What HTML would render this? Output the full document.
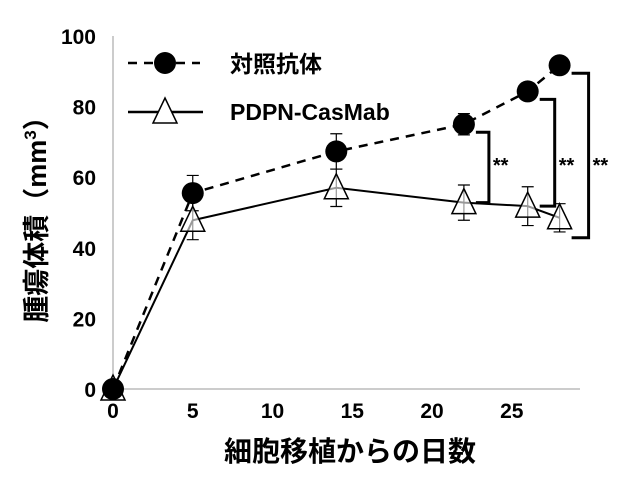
<!DOCTYPE html>
<html><head><meta charset="utf-8"><style>
body{margin:0;background:#fff}
svg text{font-family:"Liberation Sans","Noto Sans CJK JP",sans-serif;font-weight:bold}
</style></head><body>
<svg id="chart" width="638" height="482" viewBox="0 0 638 482" xmlns="http://www.w3.org/2000/svg">
<g id="axes"></g><g id="plot"></g>
<text transform="translate(46,213) rotate(-90)" text-anchor="middle" font-size="27">腫瘍体積（mm<tspan font-size="17" dy="-10">3</tspan><tspan dy="10">）</tspan></text>
<text x="350" y="461" text-anchor="middle" font-size="28">細胞移植からの日数</text>
<g>
 <line x1="128" y1="63" x2="200" y2="63" stroke="#000" stroke-width="2.5" stroke-dasharray="9,7"/>
 <circle cx="165" cy="63" r="11"/>
 <text x="230" y="72" font-size="23">対照抗体</text>
 <line x1="128" y1="112" x2="203" y2="112" stroke="#000" stroke-width="2.5"/>
 <path d="M165,98 L177,123 L153,123 Z" fill="#fff" stroke="#000" stroke-width="1.5"/>
 <text x="230" y="120" font-size="23">PDPN-CasMab</text>
</g>
</svg>
<script>
const days=[0,5,14,22,26,28];
const controlValues=[0,55.5,67.3,75,84.3,91.7];
const controlErrors=[0,5,5,3,2,1];
const pdpnValues=[0,47.8,57,52.8,51.8,48.5];
const pdpnErrors=[0,5.5,5.3,5,5.5,4];
const xTicks=[0,5,10,15,20,25];
const yTicks=[0,20,40,60,80,100];
const sigIdx=[3,4,5];
const sigLabels=["**","**","**"];
const NS="http://www.w3.org/2000/svg";
const X=d=>113+d*15.95, Y=v=>389-v*3.53;
function mk(p,t,a){const e=document.createElementNS(NS,t);for(const k in a)e.setAttribute(k,a[k]);p.appendChild(e);return e;}
const axes=document.getElementById('axes'),plot=document.getElementById('plot');
let e=mk(axes,'line',{x1:113,y1:Y(100),x2:113,y2:389,stroke:'#999','stroke-width':1});


e=mk(axes,'line',{x1:113,y1:389,x2:580,y2:389,stroke:'#999','stroke-width':1});


yTicks.forEach(v=>{const t=mk(axes,'text',{x:96,y:Y(v)+8,'text-anchor':'end','font-size':21});t.textContent=v;

});
xTicks.forEach(v=>{const t=mk(axes,'text',{x:X(v),y:418,'text-anchor':'middle','font-size':21});t.textContent=v;

});
function pts(vals){return days.map((d,i)=>X(d)+','+Y(vals[i])).join(' ');}
e=mk(plot,'polyline',{points:pts(pdpnValues),fill:'none',stroke:'#000','stroke-width':2});


e=mk(plot,'polyline',{points:pts(controlValues),fill:'none',stroke:'#000','stroke-width':2.5,'stroke-dasharray':'9,7'});


function err(vals,errs,name){days.forEach((d,i)=>{if(!errs[i])return;const x=X(d),a=Y(vals[i]+errs[i]),b=Y(vals[i]-errs[i]);
const g=mk(plot,'path',{d:`M${x},${a}V${b}M${x-6},${a}h12M${x-6},${b}h12`,stroke:'#000','stroke-width':1.2,fill:'none'});

});}
err(pdpnValues,pdpnErrors,'pdpn-error-bar');
err(controlValues,controlErrors,'control-error-bar');
days.forEach((d,i)=>{const x=X(d),y=Y(pdpnValues[i]);
const t=mk(plot,'path',{d:`M${x},${y-14}L${x+12},${y+11}L${x-12},${y+11}Z`,fill:'#fff','fill-opacity':0.6,stroke:'#000','stroke-width':1.5});

});
days.forEach((d,i)=>{const c=mk(plot,'circle',{cx:X(d),cy:Y(controlValues[i]),r:11,fill:'#000'});

});
sigIdx.forEach((idx,k)=>{const d=days[idx];const x0=X(d)+12,x1=X(d)+25+k*2;
const top=Y(controlValues[idx])+8,bot=Y(pdpnValues[idx])+(k==2?20:0);
const b=mk(plot,'path',{d:`M${x0},${top}H${x1}V${bot}H${x0}`,fill:'none',stroke:'#000','stroke-width':3});


const t=mk(plot,'text',{x:x1+4,y:172,'font-size':20,'font-weight':'normal'});t.textContent=sigLabels[k];

});
</script>
</body></html>
